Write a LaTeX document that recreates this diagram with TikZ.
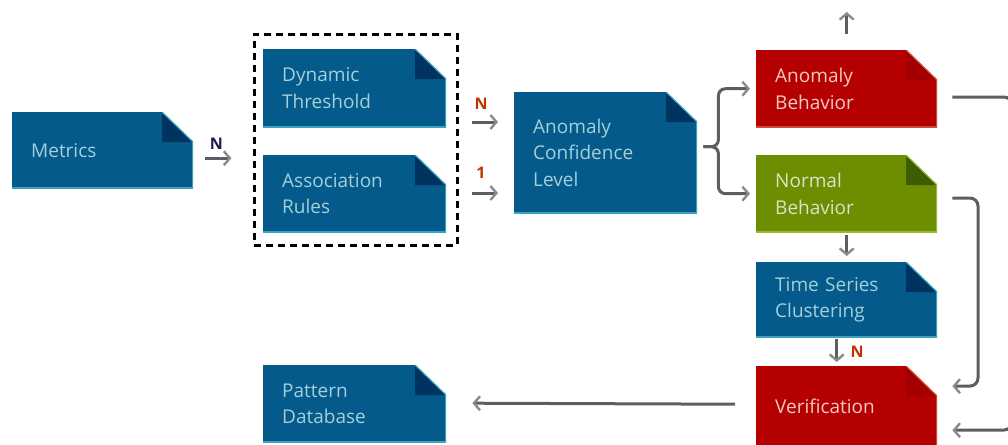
\documentclass[tikz,border=0pt]{standalone}
\usepackage{fontspec}
\setmainfont{Open Sans}
\usetikzlibrary{arrows.meta,calc}
\definecolor{bluefill}{HTML}{045A8A}
\definecolor{bluefold}{HTML}{003360}
\definecolor{blueedge}{HTML}{3AA3BD}
\definecolor{bluetext}{HTML}{A3D0DA}
\definecolor{redfill}{HTML}{B40000}
\definecolor{redfold}{HTML}{A20000}
\definecolor{rededge}{HTML}{D04A30}
\definecolor{redtext}{HTML}{F2CABE}
\definecolor{grnfill}{HTML}{6C8E00}
\definecolor{grnfold}{HTML}{3C5E00}
\definecolor{grnedge}{HTML}{9CB830}
\definecolor{grntext}{HTML}{DCE3C8}
\definecolor{arrgray}{HTML}{5E5E60}
\definecolor{tipgray}{HTML}{8A8A8A}
\definecolor{navylab}{HTML}{1C1C4C}
\definecolor{redlab}{HTML}{C23200}
\tikzset{
  x=1pt,y=-1pt,
  docbox/.style n args={4}{
    anchor=north west, inner xsep=19pt, inner ysep=0pt, align=left,
    font=\fontsize{19}{26.5}\selectfont, text=#4, fill=#1,
    path picture={
      \fill[white] (path picture bounding box.north east) -- ++(-31pt,0pt) -- ++(31pt,-30pt) -- cycle;
      \fill[#2] ($(path picture bounding box.north east)+(-31pt,0pt)$) -- ++(0pt,-30pt) -- ++(31pt,0pt) -- cycle;
      \draw[#3,line width=3pt] (path picture bounding box.south west) -- (path picture bounding box.south east) -- ($(path picture bounding box.north east)+(0pt,-30pt)$);
      \draw[#3,line width=1.2pt] ($(path picture bounding box.north east)+(-31pt,0pt)$) -- ($(path picture bounding box.north east)+(0pt,-30pt)$);
    }},
  bluebox/.style={docbox={bluefill}{bluefold}{blueedge}{bluetext}},
  redbox/.style={docbox={redfill}{redfold}{rededge}{redtext}},
  grnbox/.style={docbox={grnfill}{grnfold}{grnedge}{grntext}},
  arr/.style={draw=arrgray, line width=3pt, -{Straight Barb[length=6pt,width=14pt,line width=2.4pt,color=tipgray]}},
  lab/.style={font=\fontsize{16}{16}\selectfont\bfseries, inner sep=0pt},
}
\begin{document}
\begin{tikzpicture}
\useasboundingbox (0,0) rectangle (1008,444);
% boxes
\node[bluebox, minimum width=181, minimum height=76, text width=143] (metrics) at (12,112) {Metrics};
\node[bluebox, minimum width=183, minimum height=78, text width=145] (dyn) at (263,49) {Dynamic\\Threshold};
\node[bluebox, minimum width=183, minimum height=77, text width=145] (assoc) at (263,155) {Association\\Rules};
\node[bluebox, minimum width=183, minimum height=121, text width=145] (acl) at (514,92) {Anomaly\\Confidence\\Level};
\node[redbox, minimum width=181, minimum height=77, text width=143] (anom) at (756,50) {Anomaly\\Behavior};
\node[grnbox, minimum width=181, minimum height=77, text width=143] (normal) at (756,155) {Normal\\Behavior};
\node[bluebox, minimum width=181, minimum height=75, text width=143] (tsc) at (756,262) {Time Series\\Clustering};
\node[redbox, minimum width=181, minimum height=80, text width=143] (verif) at (756,366) {Verification};
\node[bluebox, minimum width=183, minimum height=77, text width=145] (pattern) at (263,365) {Pattern\\Database};
% dashed group
\node[draw=black, line width=2.8pt, dash pattern=on 7pt off 5pt, minimum width=203, minimum height=211, anchor=north west, inner sep=0pt] (group) at (253,33) {};
% connectors
\coordinate (m1) at ($(metrics.east)+(12,8)$);
\draw[arr] (m1) -- ++(26,0);
\node[lab, text=navylab] at ($(m1)+(11,-14)$) {N};
\coordinate (d1) at (472,122);
\coordinate (a1) at (472,193);
\draw[arr, shorten >=16pt] (d1) -- (acl.west |- d1);
\draw[arr, shorten >=16pt] (a1) -- (acl.west |- a1);
\node[lab, text=redlab] at (481,104) {N};
\node[lab, text=redlab] at (481,173) {1};
\coordinate (br) at ($(acl.east)+(21,-6)$);
\coordinate (st) at ($(acl.east)+(6,-6)$);
\draw[arr, rounded corners=7pt, shorten >=6pt] (st) -- (br) |- (anom.west);
\draw[arr, rounded corners=7pt, shorten >=6pt] (st) -- (br) |- (normal.west);
\draw[arr] ($(anom.north)+(0,-16)$) -- ++(0,-22);
\draw[arr, rounded corners=8pt] ($(anom.east)+(15,8.5)$) -- (1012,97) -- (1012,430) -- ($(verif.east)+(15,24)$);
\draw[arr, rounded corners=8pt] ($(normal.east)+(15,4.5)$) -- (978,198) -- (978,386) -- ($(verif.east)+(15,-20)$);
\draw[arr] ($(normal.south)+(0,3)$) -- ($(tsc.north)+(0,-6)$);
\draw[arr] ($(tsc.south)+(-10,2)$) -- ($(verif.north)+(-10,-4)$);
\node[lab, text=redlab] at (857,352) {N};
\draw[arr] ($(verif.west)+(-21,-2)$) -- ($(pattern.east)+(26,-0.5)$);
\end{tikzpicture}
\end{document}
